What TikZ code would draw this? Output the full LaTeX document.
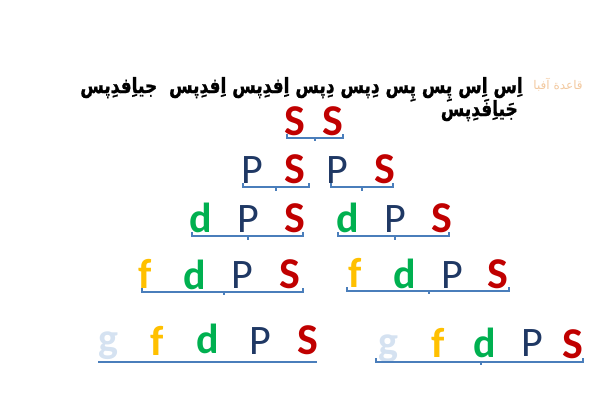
\documentclass[tikz,border=0pt]{standalone}
\usepackage{fontspec}
\setmainfont{Carlito}
\newfontfamily\farsi[Script=Arabic,FakeBold=1.2]{DejaVu Sans Bold}
\newfontfamily\farsitag[Script=Arabic]{DejaVu Sans}
\TeXXeTstate=1
\usepackage{tikz}
\definecolor{sred}{HTML}{C00000}
\definecolor{pblue}{HTML}{1F3864}
\definecolor{dgreen}{HTML}{00B050}
\definecolor{fyellow}{HTML}{FFC000}
\definecolor{gblue}{HTML}{D5E2F1}
\definecolor{barblue}{HTML}{4A7EBB}
\definecolor{tag}{HTML}{F2C9A0}
\tikzset{
  letter/.style={anchor=base,inner sep=0pt,font=\fontsize{42}{42}\selectfont},
  sl/.style={letter,text=sred,font=\fontsize{44}{44}\selectfont\bfseries},
  pl/.style={letter,text=pblue},
  dl/.style={letter,text=dgreen,font=\fontsize{42}{42}\selectfont\bfseries},
  fl/.style={letter,text=fyellow,font=\fontsize{42}{42}\selectfont\bfseries},
  gl/.style={letter,text=gblue,font=\fontsize{42}{42}\selectfont\bfseries},
  title/.style={anchor=base east,inner sep=0pt,font=\farsi\fontsize{21}{21}\selectfont},
  bar/.style={draw=barblue,line width=1.1pt}
}

\begin{document}
\begin{tikzpicture}[x=1pt,y=-1pt]
    \useasboundingbox (0,0) rectangle (600,400);
    % title
    \node[title] (t1) at (523,93)
    {\scalebox{0.81}[1]{\beginR اِس اِس پِس پِس دِپس دِپس اِفدِپس اِفدِپس\ \ جیاِفدِپس\endR}};
    \node[title] (t2) at (518,116)
    {\scalebox{0.81}[1]{\beginR جَیاِفَدِپس\endR}};
    \node[inner sep=0pt,text=tag,font=\farsitag\fontsize{12}{12}\selectfont] (tag) at (558,85) {\beginR قاعدة آفبا\endR};
    % row 1
    \node[sl] (s11) at (295,135) {S};
    \node[sl] (s12) at (333,135) {S};
    \draw[bar] (287,134) -- (287,138) -- (343,138) -- (343,134) (315,138) -- (315,141);
    % row 2
    \node[pl] (p21) at (252,183) {P};
    \node[sl] (s21) at (295,183) {S};
    \node[pl] (p22) at (337,183) {P};
    \node[sl] (s22) at (385,183) {S};
    \draw[bar] (243,183) -- (243,187) -- (309,187) -- (309,183) (276,187) -- (276,191);
    \draw[bar] (331,183) -- (331,187) -- (393,187) -- (393,183) (362,187) -- (362,191);
    % row 3
    \node[dl] (d31) at (201,232) {d};
    \node[pl] (p31) at (248,232) {P};
    \node[sl] (s31) at (295,232) {S};
    \node[dl] (d32) at (348,232) {d};
    \node[pl] (p32) at (395,232) {P};
    \node[sl] (s32) at (442,232) {S};
    \draw[bar] (192,232) -- (192,236) -- (303,236) -- (303,232) (248,236) -- (248,240);
    \draw[bar] (338,232) -- (338,236) -- (449,236) -- (449,232) (395,236) -- (395,240);
    % row 4
    \node[fl] (f41) at (145,288) {f};
    \node[dl] (d41) at (195,289) {d};
    \node[pl] (p41) at (242,288) {P};
    \node[sl] (s41) at (290,288) {S};
    \node[fl] (f42) at (355,287) {f};
    \node[dl] (d42) at (405,288) {d};
    \node[pl] (p42) at (452,288) {P};
    \node[sl] (s42) at (498,288) {S};
    \draw[bar] (142,288) -- (142,292) -- (303,292) -- (303,288) (224,292) -- (224,295);
    \draw[bar] (347,287) -- (347,291) -- (509,291) -- (509,287) (429,291) -- (429,294);
    % row 5
    \node[gl] (g51) at (108,352) {g};
    \node[fl] (f51) at (157,355) {f};
    \node[dl] (d51) at (208,353) {d};
    \node[pl] (p51) at (260,354) {P};
    \node[sl] (s51) at (308,354) {S};
    \node[gl] (g52) at (388,355) {g};
    \node[fl] (f52) at (438,357) {f};
    \node[dl] (d52) at (485,357) {d};
    \node[pl] (p52) at (532,356) {P};
    \node[sl] (s52) at (573,358) {S};
    \draw[bar] (98,362) -- (317,362);
    \draw[bar] (376,358) -- (376,362) -- (583,362) -- (583,358) (481,362) -- (481,365);
\end{tikzpicture}
\end{document}
